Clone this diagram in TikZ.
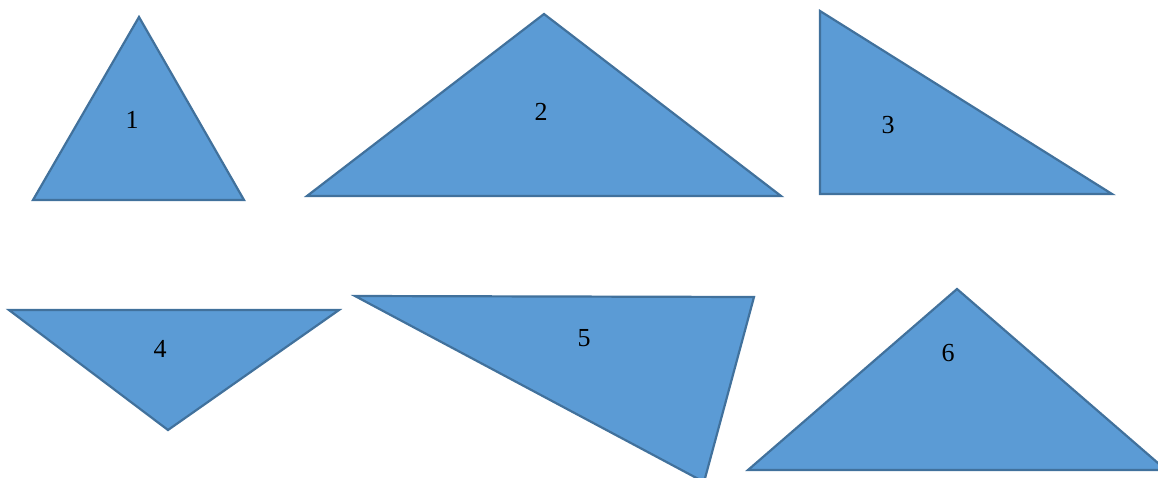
\documentclass[tikz,border=0pt]{standalone}
\usepackage{fontspec}
\setmainfont{Liberation Serif}
\definecolor{triFill}{HTML}{5B9BD5}
\definecolor{triEdge}{HTML}{41719C}
\begin{document}
\begin{tikzpicture}[x=1pt,y=-1pt,
  tri/.style={fill=triFill,draw=triEdge,line width=2.2pt,line join=miter},
  num/.style={font=\fontsize{26}{30}\selectfont,text=black,inner sep=0pt}]
\useasboundingbox (0,0) rectangle (1158,477);
\clip (0,0) rectangle (1158,477);
\draw[tri] (139,17) -- (33,200) -- (244,200) -- cycle;
\node[num] (l1) at (132,120) {1};
\draw[tri] (544,14) -- (307,196) -- (781,196) -- cycle;
\node[num] (l2) at (541,112) {2};
\draw[tri] (820,11) -- (820,194) -- (1112,194) -- cycle;
\node[num] (l3) at (888,125) {3};
\draw[tri] (9,310) -- (339,310) -- (168,430) -- cycle;
\node[num] (l4) at (160,349) {4};
\draw[tri] (355,296) -- (754,297) -- (704,482) -- cycle;
\node[num] (l5) at (584,338) {5};
\draw[tri] (957,289) -- (748,470) -- (1166,470) -- cycle;
\node[num] (l6) at (948,353) {6};
\end{tikzpicture}
\end{document}
